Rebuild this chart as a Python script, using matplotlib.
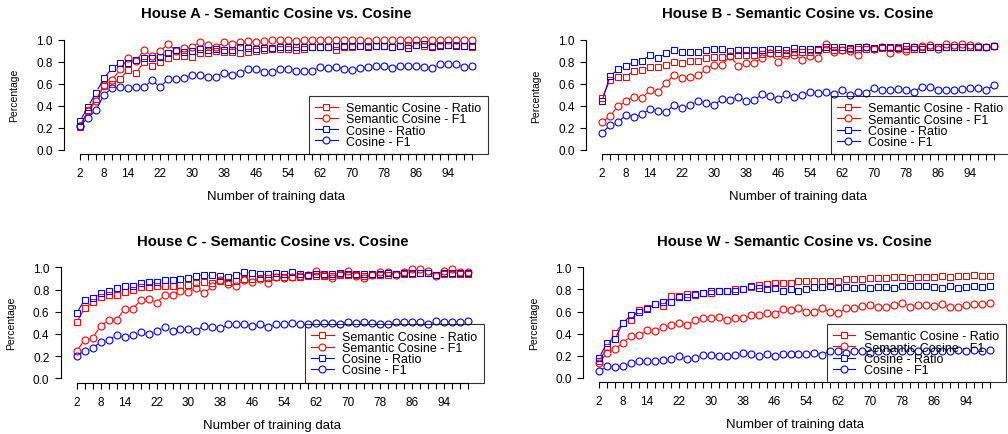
import numpy as np
import matplotlib
matplotlib.use('Agg')
import matplotlib.pyplot as plt
from matplotlib.collections import LineCollection
from matplotlib.lines import Line2D

plt.rcParams['font.family'] = ['Liberation Sans', 'DejaVu Sans']

FIG_W, FIG_H = 1008, 435
RED = '#FF0000'
BLUE = '#0000FF'

# x axis: number of training data
n_train = np.arange(2, 101, 2)
shown_ticks = [2, 8, 14, 22, 30, 38, 46, 54, 62, 70, 78, 86, 94]
y_ticks = [0.0, 0.2, 0.4, 0.6, 0.8, 1.0]
legend_labels = ["Semantic Cosine - Ratio", "Semantic Cosine - F1",
                 "Cosine - Ratio", "Cosine - F1"]

house_a_sem_ratio = [0.205, 0.36, 0.46, 0.58, 0.60, 0.64, 0.725, 0.70, 0.795, 0.765,
                     0.80, 0.83, 0.85, 0.85, 0.845, 0.88, 0.875, 0.895, 0.885, 0.885,
                     0.875, 0.885, 0.895, 0.905, 0.92, 0.915, 0.915, 0.905, 0.92, 0.935,
                     0.93, 0.93, 0.91, 0.93, 0.935, 0.945, 0.945, 0.945, 0.945, 0.935,
                     0.945, 0.95, 0.95, 0.945, 0.945, 0.95, 0.95, 0.955, 0.945, 0.935]
house_a_sem_f1 = [0.22, 0.35, 0.44, 0.59, 0.63, 0.73, 0.83, 0.81, 0.905, 0.855,
                  0.895, 0.96, 0.90, 0.925, 0.935, 0.975, 0.955, 0.935, 0.975, 0.965,
                  0.975, 0.985, 0.975, 0.99, 1.0, 1.0, 0.995, 0.985, 1.0, 0.995,
                  1.0, 1.0, 1.0, 1.0, 0.995, 1.0, 0.99, 1.0, 1.0, 1.0,
                  1.0, 1.0, 1.0, 1.0, 0.995, 1.0, 1.0, 1.0, 1.0, 1.0]
house_a_cos_ratio = [0.26, 0.39, 0.52, 0.65, 0.74, 0.79, 0.785, 0.82, 0.83, 0.83,
                     0.84, 0.875, 0.91, 0.885, 0.90, 0.915, 0.91, 0.915, 0.91, 0.91,
                     0.93, 0.925, 0.915, 0.925, 0.925, 0.93, 0.93, 0.935, 0.935, 0.935,
                     0.935, 0.935, 0.94, 0.945, 0.945, 0.945, 0.93, 0.945, 0.945, 0.935,
                     0.945, 0.925, 0.955, 0.96, 0.93, 0.945, 0.95, 0.945, 0.945, 0.945]
house_a_cos_f1 = [0.22, 0.29, 0.36, 0.50, 0.56, 0.57, 0.56, 0.57, 0.57, 0.63,
                  0.57, 0.64, 0.64, 0.655, 0.68, 0.675, 0.665, 0.665, 0.70, 0.675,
                  0.70, 0.735, 0.73, 0.71, 0.71, 0.735, 0.735, 0.715, 0.72, 0.72,
                  0.75, 0.74, 0.755, 0.73, 0.725, 0.74, 0.755, 0.76, 0.765, 0.745,
                  0.765, 0.76, 0.765, 0.755, 0.745, 0.775, 0.775, 0.775, 0.755, 0.76]

house_b_sem_ratio = [0.47, 0.635, 0.66, 0.665, 0.72, 0.725, 0.75, 0.75, 0.775, 0.80,
                     0.785, 0.81, 0.81, 0.835, 0.845, 0.845, 0.85, 0.86, 0.865, 0.86,
                     0.87, 0.88, 0.88, 0.875, 0.885, 0.885, 0.885, 0.905, 0.915, 0.91,
                     0.905, 0.915, 0.915, 0.92, 0.92, 0.925, 0.925, 0.93, 0.915, 0.92,
                     0.93, 0.935, 0.935, 0.935, 0.935, 0.935, 0.935, 0.935, 0.935, 0.945]
house_b_sem_f1 = [0.25, 0.31, 0.395, 0.44, 0.485, 0.475, 0.54, 0.53, 0.605, 0.68,
                  0.65, 0.665, 0.68, 0.73, 0.775, 0.77, 0.85, 0.765, 0.79, 0.79,
                  0.835, 0.875, 0.80, 0.865, 0.865, 0.815, 0.85, 0.83, 0.96, 0.89,
                  0.905, 0.90, 0.86, 0.93, 0.92, 0.93, 0.88, 0.92, 0.895, 0.93,
                  0.94, 0.95, 0.92, 0.965, 0.955, 0.965, 0.955, 0.94, 0.935, 0.94]
house_b_cos_ratio = [0.44, 0.67, 0.73, 0.76, 0.80, 0.81, 0.86, 0.83, 0.88, 0.905,
                     0.89, 0.89, 0.885, 0.905, 0.92, 0.915, 0.895, 0.905, 0.91, 0.91,
                     0.905, 0.92, 0.915, 0.91, 0.925, 0.92, 0.915, 0.915, 0.935, 0.935,
                     0.93, 0.925, 0.935, 0.93, 0.925, 0.93, 0.93, 0.925, 0.945, 0.93,
                     0.92, 0.93, 0.93, 0.935, 0.93, 0.935, 0.935, 0.935, 0.93, 0.94]
house_b_cos_f1 = [0.155, 0.225, 0.25, 0.32, 0.30, 0.325, 0.37, 0.355, 0.34, 0.41,
                  0.38, 0.41, 0.44, 0.425, 0.41, 0.46, 0.455, 0.485, 0.445, 0.45,
                  0.505, 0.49, 0.465, 0.505, 0.485, 0.50, 0.525, 0.515, 0.53, 0.505,
                  0.545, 0.50, 0.525, 0.515, 0.56, 0.545, 0.545, 0.555, 0.545, 0.53,
                  0.575, 0.575, 0.545, 0.54, 0.54, 0.55, 0.56, 0.565, 0.54, 0.59]

house_c_sem_ratio = [0.505, 0.63, 0.69, 0.73, 0.755, 0.75, 0.78, 0.795, 0.82, 0.825,
                     0.83, 0.83, 0.835, 0.845, 0.845, 0.855, 0.865, 0.86, 0.88, 0.87,
                     0.88, 0.895, 0.895, 0.90, 0.905, 0.91, 0.91, 0.91, 0.915, 0.92,
                     0.92, 0.92, 0.92, 0.93, 0.93, 0.93, 0.925, 0.93, 0.935, 0.935,
                     0.94, 0.94, 0.94, 0.945, 0.945, 0.935, 0.94, 0.94, 0.94, 0.94]
house_c_sem_f1 = [0.245, 0.345, 0.365, 0.47, 0.525, 0.525, 0.625, 0.62, 0.705, 0.715,
                  0.68, 0.75, 0.755, 0.785, 0.78, 0.81, 0.765, 0.835, 0.885, 0.85,
                  0.835, 0.89, 0.87, 0.895, 0.86, 0.91, 0.90, 0.915, 0.925, 0.93,
                  0.97, 0.93, 0.90, 0.94, 0.97, 0.925, 0.90, 0.935, 0.955, 0.955,
                  0.935, 0.96, 0.985, 0.985, 0.97, 0.925, 0.97, 0.985, 0.96, 0.955]
house_c_cos_ratio = [0.585, 0.71, 0.72, 0.77, 0.785, 0.81, 0.835, 0.83, 0.86, 0.865,
                     0.865, 0.89, 0.885, 0.895, 0.905, 0.92, 0.935, 0.935, 0.925, 0.915,
                     0.93, 0.955, 0.945, 0.94, 0.94, 0.945, 0.94, 0.955, 0.94, 0.93,
                     0.94, 0.94, 0.94, 0.945, 0.94, 0.94, 0.94, 0.94, 0.94, 0.945,
                     0.94, 0.945, 0.945, 0.945, 0.945, 0.935, 0.945, 0.945, 0.945, 0.945]
house_c_cos_f1 = [0.20, 0.245, 0.27, 0.33, 0.345, 0.39, 0.37, 0.39, 0.415, 0.395,
                  0.425, 0.46, 0.425, 0.44, 0.44, 0.43, 0.475, 0.465, 0.45, 0.485,
                  0.49, 0.49, 0.47, 0.49, 0.46, 0.485, 0.485, 0.495, 0.49, 0.485,
                  0.50, 0.50, 0.495, 0.49, 0.51, 0.50, 0.505, 0.50, 0.49, 0.485,
                  0.505, 0.51, 0.51, 0.505, 0.485, 0.515, 0.51, 0.505, 0.51, 0.52]

house_w_sem_ratio = [0.15, 0.28, 0.41, 0.495, 0.525, 0.615, 0.63, 0.67, 0.65, 0.745,
                     0.745, 0.76, 0.75, 0.765, 0.77, 0.79, 0.79, 0.80, 0.805, 0.82,
                     0.84, 0.845, 0.855, 0.855, 0.86, 0.875, 0.875, 0.875, 0.875, 0.875,
                     0.875, 0.895, 0.89, 0.895, 0.90, 0.90, 0.905, 0.91, 0.915, 0.905,
                     0.91, 0.91, 0.915, 0.925, 0.915, 0.92, 0.92, 0.93, 0.925, 0.925]
house_w_sem_f1 = [0.135, 0.225, 0.26, 0.32, 0.375, 0.385, 0.43, 0.425, 0.46, 0.48,
                  0.495, 0.475, 0.52, 0.54, 0.54, 0.555, 0.525, 0.54, 0.54, 0.57,
                  0.57, 0.59, 0.58, 0.625, 0.615, 0.63, 0.60, 0.60, 0.63, 0.595,
                  0.585, 0.63, 0.63, 0.65, 0.66, 0.64, 0.64, 0.66, 0.68, 0.645,
                  0.655, 0.655, 0.65, 0.665, 0.64, 0.645, 0.655, 0.67, 0.665, 0.675]
house_w_cos_ratio = [0.18, 0.32, 0.35, 0.50, 0.565, 0.60, 0.625, 0.67, 0.685, 0.69,
                     0.735, 0.735, 0.76, 0.765, 0.79, 0.79, 0.79, 0.79, 0.805, 0.83,
                     0.81, 0.805, 0.81, 0.79, 0.805, 0.79, 0.80, 0.82, 0.82, 0.83,
                     0.81, 0.82, 0.81, 0.82, 0.815, 0.82, 0.825, 0.81, 0.83, 0.83,
                     0.83, 0.83, 0.82, 0.815, 0.83, 0.815, 0.82, 0.83, 0.82, 0.83]
house_w_cos_f1 = [0.06, 0.105, 0.10, 0.11, 0.135, 0.15, 0.155, 0.155, 0.165, 0.17,
                  0.195, 0.17, 0.18, 0.21, 0.21, 0.195, 0.20, 0.21, 0.225, 0.215,
                  0.195, 0.22, 0.195, 0.22, 0.22, 0.22, 0.215, 0.225, 0.21, 0.245,
                  0.24, 0.23, 0.24, 0.245, 0.23, 0.24, 0.24, 0.245, 0.245, 0.24,
                  0.245, 0.245, 0.245, 0.24, 0.245, 0.25, 0.24, 0.25, 0.24, 0.25]

houses = {
    "A": [house_a_sem_ratio, house_a_sem_f1, house_a_cos_ratio, house_a_cos_f1],
    "B": [house_b_sem_ratio, house_b_sem_f1, house_b_cos_ratio, house_b_cos_f1],
    "C": [house_c_sem_ratio, house_c_sem_f1, house_c_cos_ratio, house_c_cos_f1],
    "W": [house_w_sem_ratio, house_w_sem_f1, house_w_cos_ratio, house_w_cos_f1],
}

# plot regions in pixels: left, right, top, bottom
PANEL_BOX = {
    "A": (64.3, 487.7, 36.3, 155.1),
    "B": (586.3, 1009.7, 36.3, 155.4),
    "C": (61.0, 483.7, 263.9, 383.7),
    "W": (583.4, 1005.6, 263.9, 383.4),
}
STYLES = [(RED, 's'), (RED, 'o'), (BLUE, 's'), (BLUE, 'o')]


def addPixelAxes(fig, left, right, top, bottom):
    return fig.add_axes([left / FIG_W, 1 - bottom / FIG_H,
                         (right - left) / FIG_W, (bottom - top) / FIG_H])


def plotTypeB(ax, x, y, color, marker, gap=3.8):
    # like R's type="b": segments stop short of the points
    pts = ax.transData.transform(np.column_stack([x, y]))
    inv = ax.transData.inverted()
    segs = []
    for p, q in zip(pts[:-1], pts[1:]):
        d = q - p
        length = np.hypot(d[0], d[1])
        if length <= 2 * gap:
            continue
        u = d / length
        segs.append(inv.transform(np.array([p + u * gap, q - u * gap])))
    ax.add_collection(LineCollection(segs, colors=color, linewidths=0.8))
    ax.plot(x, y, ls='none', marker=marker, ms=5, mfc='none', mec=color, mew=0.8)


fig = plt.figure(figsize=(FIG_W / 100, FIG_H / 100), dpi=100)

for house, series in houses.items():
    ax = addPixelAxes(fig, *PANEL_BOX[house])
    ax.set_xlim(2 - 0.04 * 98, 100 + 0.04 * 98)
    ax.set_ylim(-0.04, 1.04)
    for values, (color, marker) in zip(series, STYLES):
        plotTypeB(ax, n_train, values, color, marker)

    for side in ['top', 'right']:
        ax.spines[side].set_visible(False)
    ax.spines['left'].set_bounds(0, 1)
    ax.spines['bottom'].set_bounds(2, 100)
    for side in ['left', 'bottom']:
        ax.spines[side].set_linewidth(0.8)

    ax.set_xticks(n_train)
    ax.set_xticklabels([str(v) if v in shown_ticks else '' for v in n_train])
    ax.set_yticks(y_ticks)
    ax.set_yticklabels(['%.1f' % v for v in y_ticks])
    ax.tick_params(axis='both', length=4.3, width=0.8, labelsize=8.5)
    ax.tick_params(axis='x', pad=5)
    ax.tick_params(axis='y', pad=4)

    ax.set_title("House %s - Semantic Cosine vs. Cosine" % house,
                 fontsize=10.7, fontweight='bold', pad=13)
    ax.set_xlabel("Number of training data", fontsize=9.5, labelpad=8)
    ax.set_ylabel("Percentage", fontsize=7.5, labelpad=12)

    handles = [Line2D([], [], color=c, marker=m, ms=5, mfc='white', mec=c, lw=0.8, mew=0.8)
               for c, m in STYLES]
    leg = ax.legend(handles, legend_labels, loc='lower right', bbox_to_anchor=(1, 0),
                    borderaxespad=0, fontsize=9, fancybox=False, edgecolor='black',
                    labelspacing=-0.06, handlelength=1.8, handletextpad=0.7, borderpad=0.5)
    leg.get_frame().set_facecolor('none')
    leg.get_frame().set_linewidth(0.8)

fig.savefig("out.png", dpi=100)
